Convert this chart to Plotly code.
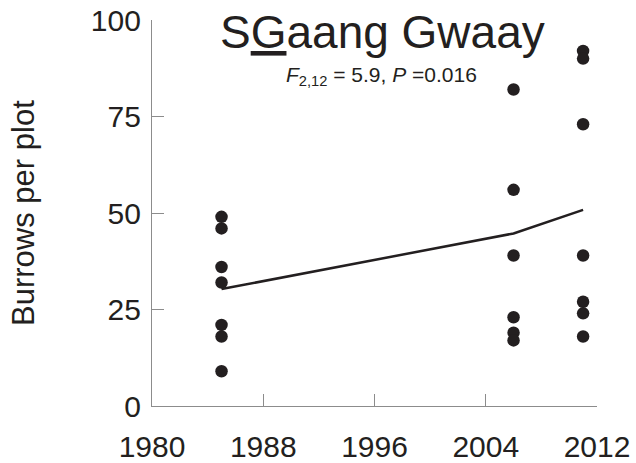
import plotly.graph_objects as go

# Data
years_1985 = [1985] * 7
burrows_1985 = [49, 46, 36, 32, 21, 18, 9]
years_2006 = [2006] * 6
burrows_2006 = [82, 56, 39, 23, 19, 17]
years_2011 = [2011] * 7
burrows_2011 = [92, 90, 73, 39, 27, 24, 18]

fit_years = [1985, 2006, 2011]
fit_values = [30.3, 44.7, 50.8]

x_ticks = [1980, 1988, 1996, 2004, 2012]
y_ticks = [0, 25, 50, 75, 100]

title_text = "S<u>G</u>aang Gwaay"
stat_text = "<i>F</i><sub>2,12</sub> = 5.9, <i>P</i> =0.016"
y_label = "Burrows per plot"

FONT = "Liberation Sans, Arial, sans-serif"

fig = go.Figure()
xs = years_1985 + years_2006 + years_2011
ys = burrows_1985 + burrows_2006 + burrows_2011
fig.add_trace(go.Scatter(x=xs, y=ys, mode="markers",
                         marker=dict(color="#231f20", size=12.5, symbol="circle"),
                         showlegend=False, cliponaxis=False))
fig.add_trace(go.Scatter(x=fit_years, y=fit_values, mode="lines",
                         line=dict(color="#231f20", width=2.5),
                         showlegend=False))

axis_common = dict(showline=True, linecolor="#8c8c8c", linewidth=1.3,
                   ticks="inside", ticklen=12, tickcolor="#8c8c8c", tickwidth=1.3,
                   showgrid=False, zeroline=False, automargin=False,
                   ticklabeloverflow="allow",
                   tickfont=dict(family=FONT, size=30, color="#231f20"))

fig.update_xaxes(range=[1980, 2012], tickvals=x_ticks, ticktext=[str(v) for v in x_ticks],
                 ticklabelstandoff=14, **axis_common)
fig.update_yaxes(range=[0, 100], tickvals=y_ticks, ticktext=[str(v) for v in y_ticks],
                 ticklabelstandoff=4, **axis_common)

fig.add_annotation(text=title_text, xref="paper", yref="paper", x=0.519, y=0.969,
                   xanchor="center", yanchor="middle", showarrow=False,
                   font=dict(family=FONT, size=46, color="#231f20"))
fig.add_annotation(text=stat_text, xref="paper", yref="paper", x=0.515, y=0.855,
                   xanchor="center", yanchor="middle", showarrow=False,
                   font=dict(family=FONT, size=21, color="#231f20"))
fig.add_annotation(text=y_label, xref="paper", yref="paper", x=-0.29, y=0.5,
                   xanchor="center", yanchor="middle", showarrow=False, textangle=-90,
                   font=dict(family=FONT, size=31, color="#231f20"))

fig.update_layout(width=636, height=463,
                  margin=dict(l=152, r=39, t=20, b=57, autoexpand=False),
                  paper_bgcolor="white", plot_bgcolor="white")

# Remove the browser's default 8px body margin so the figure fills the window.
fig.write_html("out.html", config={"displayModeBar": False},
               post_script="document.body.style.margin='0';")
